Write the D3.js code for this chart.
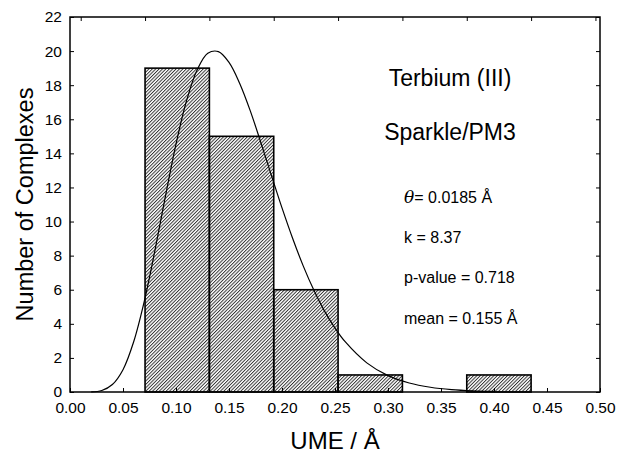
<!DOCTYPE html>
<html>
<head>
<meta charset="utf-8">
<script src="https://cdn.jsdelivr.net/npm/d3@7"></script>
<style>
  body { margin: 0; background: #fff; }
  text { font-family: Arial, "Liberation Sans", Helvetica, sans-serif; fill: #000; }
</style>
</head>
<body>
<div id="chart"></div>
<script>
// histogram of UME values, Tb(III) Sparkle/PM3, with fitted gamma curve
var binStart = [0.0708, 0.1315, 0.1922, 0.2529, 0.3136, 0.3743];
var binEnd   = [0.1315, 0.1922, 0.2529, 0.3136, 0.3743, 0.4350];
var counts   = [19, 15, 6, 1, 0, 1];

// bin edge ticks on the top axis
var topTicks = [0.0101, 0.0708, 0.1315, 0.1922, 0.2529, 0.3136, 0.3743, 0.4350, 0.4957];
var xTicks = [0.00, 0.05, 0.10, 0.15, 0.20, 0.25, 0.30, 0.35, 0.40, 0.45, 0.50];
var yTicks = [0, 2, 4, 6, 8, 10, 12, 14, 16, 18, 20, 22];

// fitted curve
var curveX = [0.02, 0.03, 0.04, 0.05, 0.06, 0.07, 0.08, 0.09, 0.10, 0.11, 0.12, 0.13, 0.14, 0.15,
              0.16, 0.17, 0.18, 0.19, 0.20, 0.21, 0.22, 0.23, 0.24, 0.25, 0.26, 0.28, 0.30, 0.32,
              0.34, 0.36, 0.38, 0.40];
var curveY = [0.01, 0.09, 0.44, 1.31, 2.93, 5.30, 8.27, 11.47, 14.54, 17.10, 18.90, 19.87, 19.97, 19.34,
              18.12, 16.51, 14.64, 12.71, 10.80, 9.02, 7.40, 5.98, 4.76, 3.75, 2.92, 1.71, 0.96, 0.53,
              0.28, 0.14, 0.07, 0.04];

var notes = ["= 0.0185 Å", "k = 8.37", "p-value = 0.718", "mean = 0.155 Å"];

var width = 618, height = 453;
var margin = { top: 17, right: 18, bottom: 61, left: 70 };

var svg = d3.select("#chart").append("svg")
    .attr("width", width)
    .attr("height", height);

var x = d3.scaleLinear().domain([0, 0.5]).range([margin.left, width - margin.right]);
var y = d3.scaleLinear().domain([0, 22]).range([height - margin.bottom, margin.top]);

// hatch
svg.append("defs").append("pattern")
    .attr("id", "hatch")
    .attr("patternUnits", "userSpaceOnUse")
    .attr("width", 2.4)
    .attr("height", 2.4)
    .attr("patternTransform", "rotate(45)")
  .append("line")
    .attr("x1", 0.5).attr("y1", 0)
    .attr("x2", 0.5).attr("y2", 2.4)
    .attr("stroke", "#222")
    .attr("stroke-width", 0.9);

var bins = counts.map(function(c, i) { return { x0: binStart[i], x1: binEnd[i], n: c }; })
    .filter(function(d) { return d.n > 0; });

svg.selectAll("rect.bar")
    .data(bins)
    .enter()
    .append("rect")
    .attr("class", "bar")
    .attr("x", d => x(d.x0))
    .attr("y", d => y(d.n))
    .attr("width", d => x(d.x1) - x(d.x0))
    .attr("height", d => y(0) - y(d.n))
    .attr("fill", "url(#hatch)")
    .attr("stroke", "#000")
    .attr("stroke-width", 1.6);

var line = d3.line()
    .x((d, i) => x(curveX[i]))
    .y(d => y(d))
    .curve(d3.curveCatmullRom);

svg.append("path")
    .attr("d", line(curveY))
    .attr("fill", "none")
    .attr("stroke", "#000")
    .attr("stroke-width", 1.2);

// axes, ticks pointing inwards
var fmt = d3.format(".2f");
var gx = svg.append("g")
    .attr("transform", "translate(0," + y(0) + ")")
    .call(d3.axisBottom(x).tickValues(xTicks).tickFormat(fmt).tickSize(-4).tickPadding(10));
var gy = svg.append("g")
    .attr("transform", "translate(" + x(0) + ",0)")
    .call(d3.axisLeft(y).tickValues(yTicks).tickSize(-4).tickPadding(8));
var gt = svg.append("g")
    .attr("transform", "translate(0," + y(22) + ")")
    .call(d3.axisTop(x).tickValues(topTicks).tickFormat("").tickSize(-4));
var gr = svg.append("g")
    .attr("transform", "translate(" + x(0.5) + ",0)")
    .call(d3.axisRight(y).tickValues(yTicks).tickFormat("").tickSize(-4));

[gx, gy, gt, gr].forEach(function(g) {
    g.select(".domain").remove();
    g.selectAll(".tick line").attr("stroke", "#000").attr("stroke-width", 1);
    g.selectAll(".tick text").style("font-size", "15.5px").attr("fill", "#000");
});

svg.append("rect")
    .attr("x", x(0))
    .attr("y", y(22))
    .attr("width", x(0.5) - x(0))
    .attr("height", y(0) - y(22))
    .attr("fill", "none")
    .attr("stroke", "#000")
    .attr("stroke-width", 1.5);

// axis titles
svg.append("text")
    .attr("x", (x(0) + x(0.5)) / 2)
    .attr("y", 449)
    .attr("text-anchor", "middle")
    .style("font-size", "24px")
    .text("UME / Å");

svg.append("text")
    .attr("transform", "translate(33," + (y(0) + y(22)) / 2 + ") rotate(-90)")
    .attr("text-anchor", "middle")
    .style("font-size", "23.5px")
    .text("Number of Complexes");

// annotations
svg.append("text")
    .attr("x", 450).attr("y", 86)
    .attr("text-anchor", "middle")
    .style("font-size", "23px")
    .text("Terbium (III)");
svg.append("text")
    .attr("x", 450).attr("y", 140)
    .attr("text-anchor", "middle")
    .style("font-size", "23px")
    .text("Sparkle/PM3");

var noteY = [203, 243, 283, 324];
notes.forEach(function(t, i) {
    var txt = svg.append("text")
        .attr("x", 404).attr("y", noteY[i])
        .style("font-size", "16px");
    if (i === 0) {
        txt.append("tspan")
            .style("font-family", "'DejaVu Serif', 'Liberation Serif', serif")
            .style("font-style", "italic")
            .style("font-size", "17px")
            .text("θ");
    }
    txt.append("tspan").text(t);
});
</script>
</body>
</html>
